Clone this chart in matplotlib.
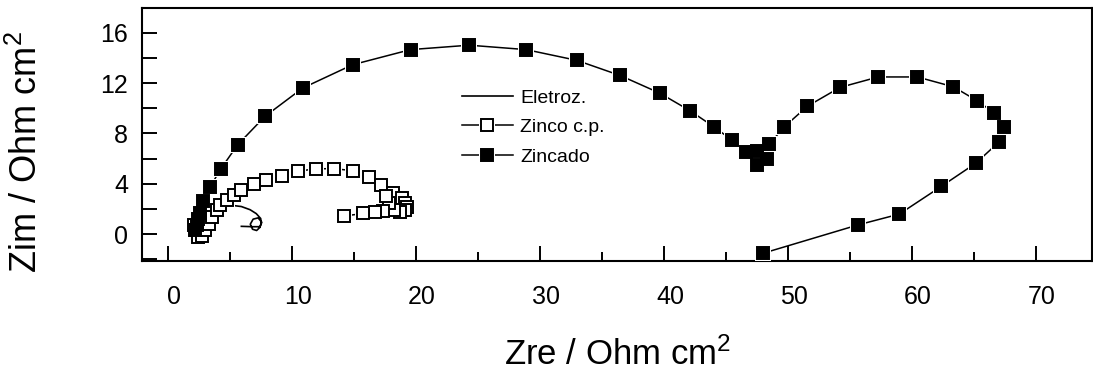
import matplotlib
matplotlib.use("Agg")
import matplotlib.pyplot as plt
import matplotlib.transforms as mtransforms
from matplotlib.lines import Line2D
from matplotlib.legend_handler import HandlerTuple
from matplotlib.ticker import MultipleLocator

plt.rcParams['font.family'] = ['Liberation Sans', 'DejaVu Sans']
plt.rcParams['mathtext.fontset'] = 'custom'
plt.rcParams['mathtext.rm'] = 'Liberation Sans'
plt.rcParams['mathtext.it'] = 'Liberation Sans'

# Nyquist data (Zre, Zim) in Ohm cm^2
eletroz_zre = [3.0, 3.6, 4.3, 5.1, 5.9, 6.6, 7.1, 7.46, 7.5, 7.4, 7.13, 6.8, 6.62,
               6.85, 7.25, 7.55, 7.4, 6.86, 5.9]
eletroz_zim = [1.5, 2.0, 2.25, 2.3, 2.2, 1.95, 1.64, 1.25, 0.9, 0.55, 0.3, 0.4, 0.8,
               1.2, 1.3, 0.95, 0.6, 0.6, 0.63]

zinco_zre = [2.1, 2.2, 2.4, 2.7, 3.0, 3.25, 3.5, 3.9, 4.2, 4.75, 5.3, 5.9, 6.9, 7.9,
             9.2, 10.5, 11.9, 13.35, 14.9, 16.2, 17.2, 18.15, 18.85, 19.1, 19.25,
             19.1, 18.7, 18.2, 17.8, 17.6, 17.3, 16.7, 15.75, 14.2]
zinco_zim = [0.7, 0.3, -0.2, -0.1, 0.35, 0.85, 1.35, 1.9, 2.3, 2.75, 3.1, 3.5, 3.95,
             4.3, 4.6, 5.0, 5.2, 5.2, 5.05, 4.55, 3.9, 3.3, 2.9, 2.5, 2.15, 1.9, 1.8,
             1.9, 2.5, 3.0, 1.85, 1.75, 1.65, 1.45]

zincado_zre = [2.16, 2.29, 2.42, 2.56, 2.83, 3.37, 4.25, 5.6, 7.8, 10.85, 14.88, 19.56,
               24.29, 28.87, 32.96, 36.46, 39.66, 42.11, 44.07, 45.52, 46.63, 47.49,
               47.54, 48.3, 48.51, 49.69, 51.57, 54.21, 57.3, 60.45, 63.36, 65.27,
               66.62, 67.47, 67.07, 65.19, 62.39, 59.0, 55.69, 48.02]
zincado_zim = [0.3, 0.71, 1.2, 1.7, 2.65, 3.75, 5.2, 7.1, 9.35, 11.6, 13.45, 14.65,
               15.0, 14.65, 13.8, 12.6, 11.2, 9.8, 8.5, 7.45, 6.55, 6.6, 5.5, 5.95,
               7.15, 8.5, 10.15, 11.65, 12.48, 12.48, 11.7, 10.6, 9.65, 8.5, 7.35,
               5.65, 3.8, 1.6, 0.75, -1.5]

labels = ["Eletroz.", "Zinco c.p.", "Zincado"]

fig = plt.figure(figsize=(10.93, 3.74), dpi=100)
ax = fig.add_axes([142 / 1093, 1 - 261 / 374, 950 / 1093, 253 / 374])

MS = 8.6
MEW = 1.4
HALO = 12.0

# connecting lines
ax.plot(eletroz_zre, eletroz_zim, color='black', lw=1.2, zorder=2)
ax.plot(zinco_zre, zinco_zim, color='black', lw=1.1, zorder=2)
ax.plot(zincado_zre, zincado_zim, color='black', lw=1.1, zorder=2)

# white halos leave a small gap between lines and symbols
for xs, ys in ((zinco_zre, zinco_zim), (zincado_zre, zincado_zim)):
    ax.plot(xs, ys, ls='none', marker='s', ms=HALO, mfc='white', mec='white',
            mew=0, zorder=3)

ax.plot(zinco_zre, zinco_zim, ls='none', marker='s', ms=MS, mfc='white',
        mec='black', mew=MEW, zorder=4)
ax.plot(zincado_zre, zincado_zim, ls='none', marker='s', ms=MS, mfc='black',
        mec='black', mew=MEW, zorder=5)

ax.set_xlim(-2.12, 74.55)
ax.set_ylim(-2.12, 17.95)

ax.xaxis.set_major_locator(MultipleLocator(10))
ax.xaxis.set_minor_locator(MultipleLocator(5))
ax.yaxis.set_major_locator(MultipleLocator(4))
ax.yaxis.set_minor_locator(MultipleLocator(2))

ax.tick_params(axis='x', which='major', direction='in', length=10.8, width=1.4,
               labelsize=18, pad=17, top=False)
ax.tick_params(axis='x', which='minor', direction='in', length=6.2, width=1.4,
               top=False)
ax.tick_params(axis='y', which='both', direction='in', length=10.8, width=1.4,
               labelsize=18, pad=10, right=False)

for sp in ax.spines.values():
    sp.set_linewidth(1.5)

ax.set_xlabel("Zre / Ohm cm$^2$", fontsize=25, labelpad=21)
ax.set_ylabel("Zim / Ohm cm$^2$", fontsize=26)
ax.yaxis.set_label_coords(-0.102, 0.43)

# x tick labels sit slightly right of their ticks
offset = mtransforms.ScaledTranslation(6 / 100, 0, fig.dpi_scale_trans)
for tick in ax.xaxis.get_major_ticks():
    tick.label1.set_transform(tick.label1.get_transform() + offset)

# legend with gapped symbols
h_el = Line2D([], [], color='black', lw=1.2)
h_line = Line2D([], [], color='black', lw=1.1)
h_halo = Line2D([], [], ls='none', marker='s', ms=HALO, mfc='white', mec='white', mew=0)
h_open = Line2D([], [], ls='none', marker='s', ms=MS, mfc='white', mec='black', mew=MEW)
h_fill = Line2D([], [], ls='none', marker='s', ms=MS, mfc='black', mec='black', mew=MEW)

leg = ax.legend([h_el, (h_line, h_halo, h_open), (h_line, h_halo, h_fill)], labels,
                handler_map={tuple: HandlerTuple(ndivide=1)},
                loc='upper left', bbox_to_anchor=(462 / 1093, 1 - 89 / 374),
                bbox_transform=fig.transFigure, frameon=False, fontsize=14,
                borderpad=0, borderaxespad=0, handlelength=2.6,
                handletextpad=0.4, labelspacing=0.61, numpoints=1)

fig.savefig("out.png", dpi=100)
